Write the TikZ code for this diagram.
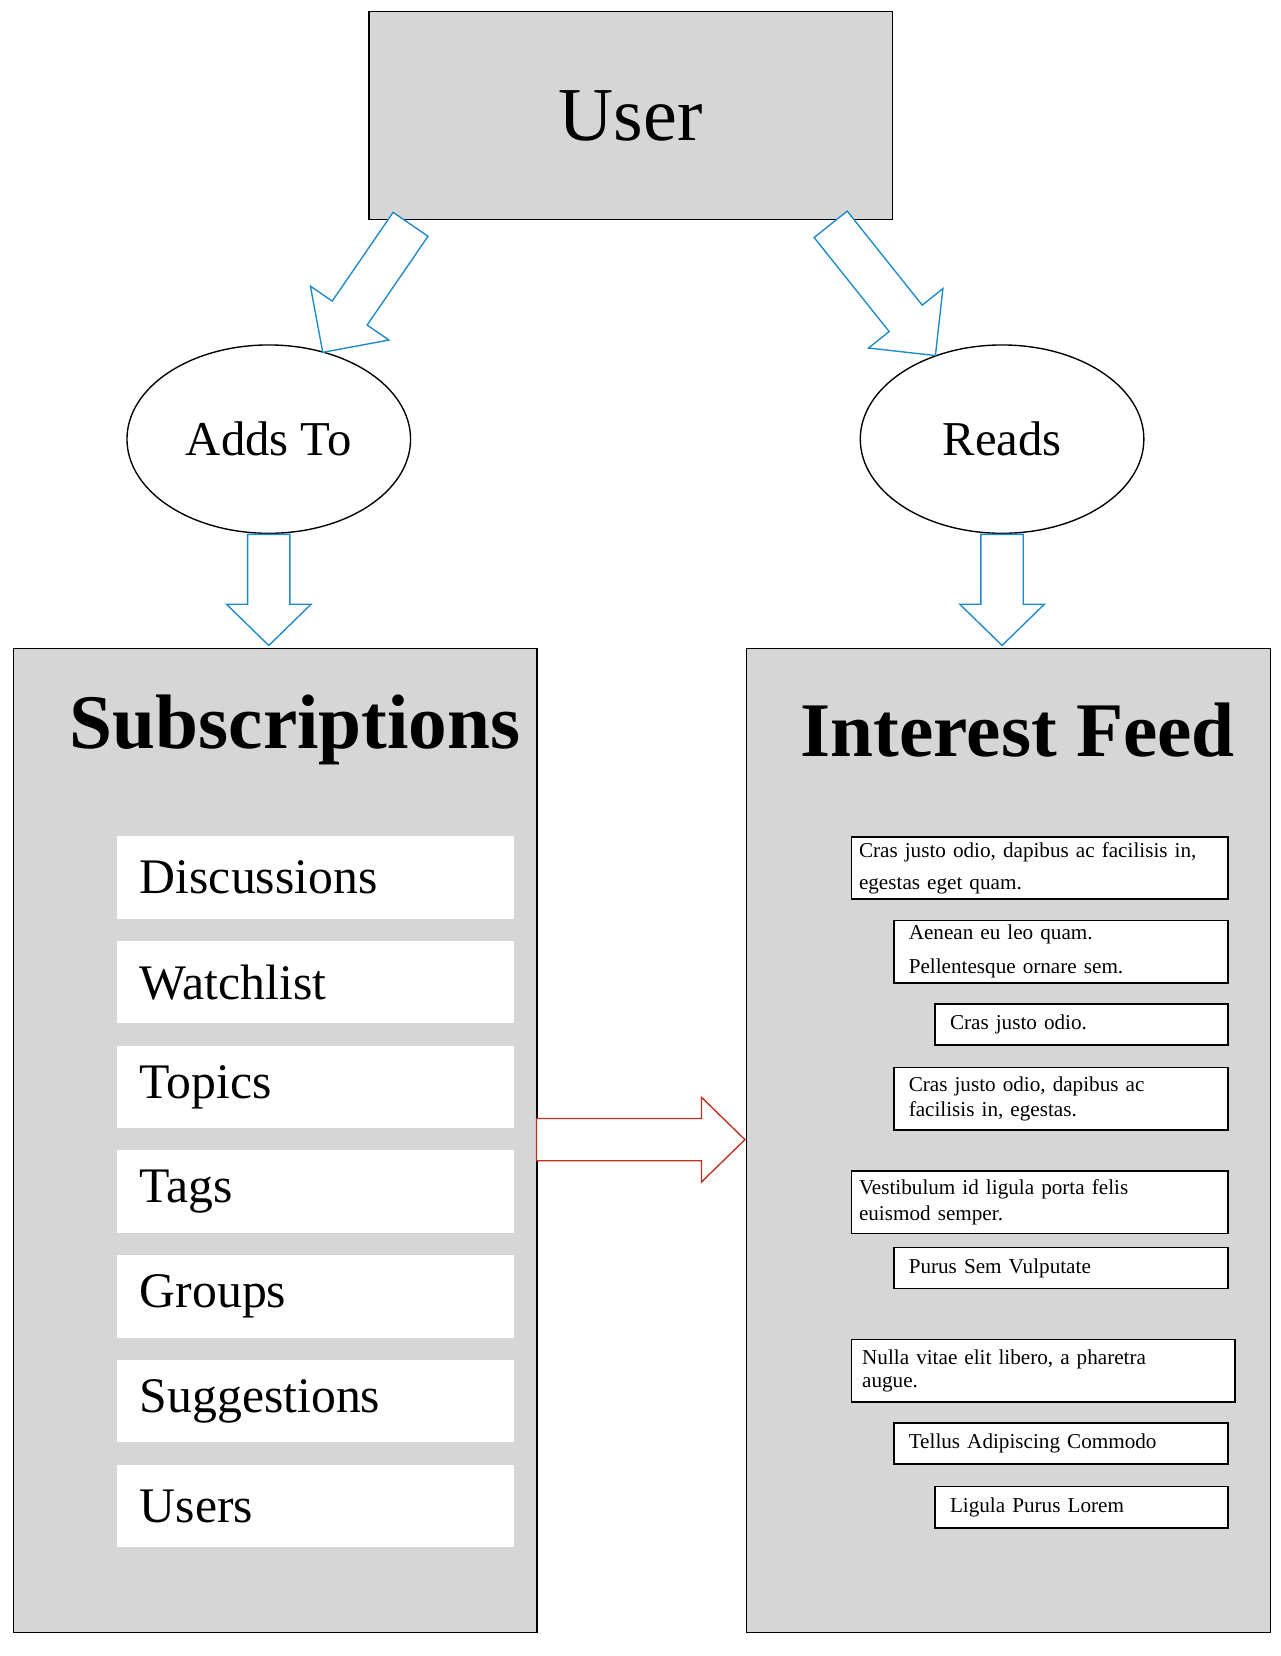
\documentclass[tikz,border=0pt]{standalone}
\usepackage{fontspec}
\setmainfont{Liberation Serif}
\usetikzlibrary{calc,shapes.geometric}
\definecolor{panel}{HTML}{D6D6D6}
\definecolor{arrblue}{HTML}{1E8ACB}
\definecolor{arrred}{HTML}{C0301E}
\newcommand\blockarr[6]{%
  \coordinate (#1H) at ($(#2)!#6!(#1)$);
  \draw[#3,line width=1.3pt,fill=white] ($(#1)!#4!90:(#2)$) -- ($(#1H)!#4!-90:(#1)$) -- ($(#1H)!#5!-90:(#1)$) -- (#2) -- ($(#1H)!#5!90:(#1)$) -- ($(#1H)!#4!90:(#1)$) -- ($(#1)!#4!-90:(#2)$) -- cycle;}
\tikzset{
  gbox/.style={draw=black,line width=1.3pt,fill=panel,anchor=north west,inner sep=0pt},
  listbox/.style={fill=white,anchor=north west,minimum width=376pt,minimum height=78pt,text width=332pt,inner xsep=22pt,align=left,font=\fontsize{47}{54}\selectfont},
  feedbox/.style={draw=black,line width=1.6pt,fill=white,anchor=north west,inner xsep=7pt,inner ysep=0pt,align=left,font=\fontsize{20}{30}\selectfont},
  oval/.style={ellipse,draw=black,line width=1.3pt,fill=white,minimum width=268pt,minimum height=178pt,inner sep=0pt,font=\fontsize{46}{50}\selectfont},
}
\begin{document}
\begin{tikzpicture}[x=1pt,y=-1pt]
\useasboundingbox (0,0) rectangle (1210,1565);
\node[gbox,minimum width=495pt,minimum height=197pt,font=\fontsize{72}{80}\selectfont] (user) at (348,10) {User};
\node[oval] (adds) at (254,415) {Adds To};
\node[oval] (reads) at (947,415) {Reads};
\node[gbox,minimum width=495pt,minimum height=930pt] (subs) at (12,612) {};
\node[gbox,minimum width=495pt,minimum height=930pt] (feed) at (705,612) {};
\node[font=\bfseries\fontsize{73}{80}\selectfont] (substitle) at (279,690) {Subscriptions};
\node[font=\bfseries\fontsize{73}{80}\selectfont] (feedtitle) at (962,690) {Interest Feed};
\foreach \t/\y [count=\i] in {Discussions/790,Watchlist/889,Topics/988,Tags/1087,Groups/1186,Suggestions/1285,Users/1384}
  \node[listbox] (li\i) at (110,\y) {\t};
\node[feedbox,minimum width=356pt,minimum height=59pt,text width=342pt] (f1) at (804,790) {Cras justo odio, dapibus ac facilisis in,\\egestas eget quam.};
\node[feedbox,minimum width=316pt,minimum height=59pt,text width=288pt,inner xsep=14pt,font=\fontsize{20}{32}\selectfont] (f2) at (844,869) {Aenean eu leo quam.\\Pellentesque ornare sem.};
\node[feedbox,minimum width=277pt,minimum height=39pt,text width=249pt,inner xsep=14pt] (f3) at (883,948) {Cras justo odio.};
\node[feedbox,minimum width=316pt,minimum height=59pt,text width=288pt,inner xsep=14pt,font=\fontsize{20}{24}\selectfont] (f4) at (844,1008) {Cras justo odio, dapibus ac\\facilisis in, egestas.};
\node[feedbox,minimum width=356pt,minimum height=59pt,text width=342pt,font=\fontsize{20}{24}\selectfont] (f5) at (804,1106) {Vestibulum id ligula porta felis\\euismod semper.};
\node[feedbox,minimum width=316pt,minimum height=39pt,text width=288pt,inner xsep=14pt] (f6) at (844,1178) {Purus Sem Vulputate};
\node[feedbox,minimum width=356pt,minimum height=59pt,text width=342pt,inner xsep=10pt,font=\fontsize{20}{22}\selectfont] (f7) at (804,1265) {Nulla vitae elit libero, a pharetra\\augue.};
\node[feedbox,minimum width=316pt,minimum height=39pt,text width=288pt,inner xsep=14pt] (f8) at (844,1344) {Tellus Adipiscing Commodo};
\node[feedbox,minimum width=277pt,minimum height=39pt,text width=249pt,inner xsep=14pt] (f9) at (883,1404) {Ligula Purus Lorem};
% arrows
\coordinate (a1) at (388,212); \coordinate (b1) at (305,333);
\coordinate (a2) at (785,212); \coordinate (b2) at (884,336);
\coordinate (a3) at (254,505); \coordinate (b3) at (254,610);
\coordinate (a4) at (947,505); \coordinate (b4) at (947,610);
\coordinate (a5) at (507,1077); \coordinate (b5) at (704,1077);
\blockarr{a1}{b1}{arrblue}{20pt}{45pt}{45pt}
\blockarr{a2}{b2}{arrblue}{20pt}{45pt}{45pt}
\blockarr{a3}{b3}{arrblue}{20pt}{40pt}{39pt}
\blockarr{a4}{b4}{arrblue}{20pt}{40pt}{39pt}
\blockarr{a5}{b5}{arrred}{20pt}{40pt}{41pt}
\end{tikzpicture}
\end{document}
